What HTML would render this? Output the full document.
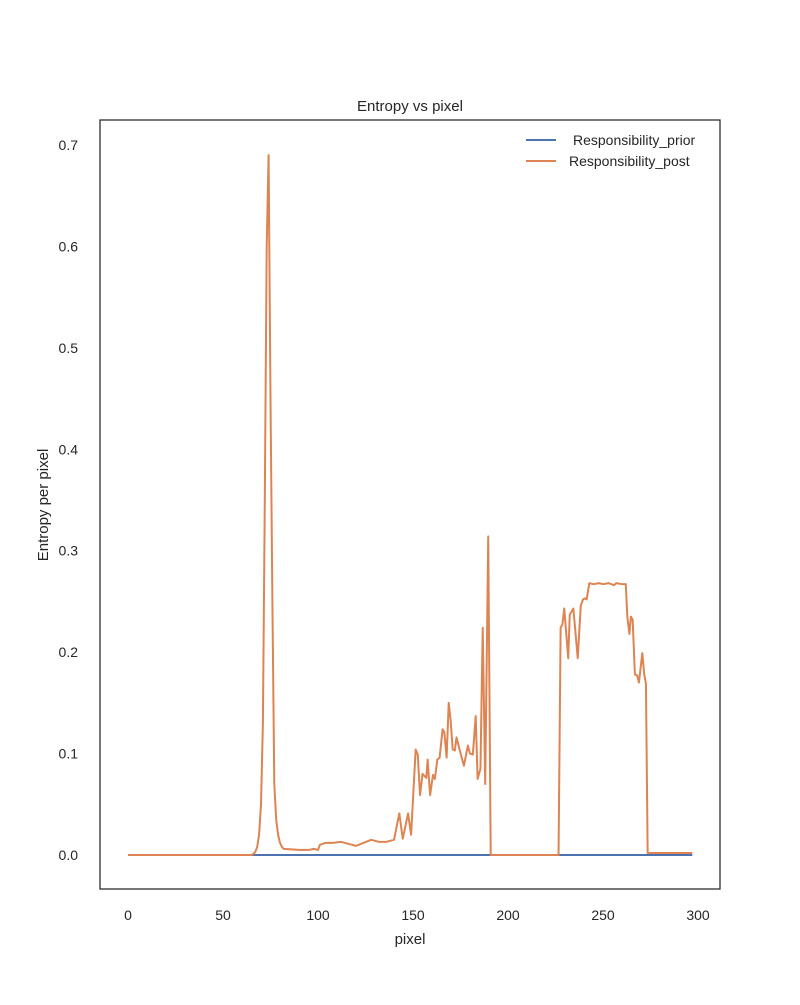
<!DOCTYPE html>
<html><head><meta charset="utf-8"><style>
body{margin:0;background:#fff;}
svg text{font-family:"Liberation Sans",sans-serif;fill:#262626;}
</style></head><body>
<svg id="chart" width="800" height="1000">
<rect x="0" y="0" width="800" height="1000" fill="#fff"/>
<g id="plot"></g>
</svg>
<script>
const priorX=[0,297];
const priorY=[0,0];
const postX=[0,65,66,67,68,69,70,71,72,73,74,75,76,77,78,79,80,81,82,90,95,98,100,101,104,108,112,116,120,124,128,132,136,140,142.8,144.6,147.4,149,151.4,152.5,153.7,155,157,157.7,159,160.5,161.5,162.8,164,165.6,166.5,167.7,168.8,169.8,170.9,172,172.9,174.5,176.8,178.9,180,181.5,183,184,185.5,186.7,188,189.6,190.9,226.6,227.7,228.6,229.6,231.7,232.5,234.4,236.7,238.3,239.5,240.5,241.4,242.8,245,248,250,253,255.8,257,260,262,262.8,263.9,264.7,265.6,266.8,268,268.9,270.7,271.7,272.6,273.5,297];
const postY=[0,0,0.001,0.003,0.008,0.02,0.05,0.13,0.35,0.60,0.69,0.45,0.25,0.07,0.035,0.02,0.012,0.008,0.006,0.005,0.005,0.006,0.005,0.010,0.012,0.012,0.013,0.011,0.009,0.012,0.015,0.013,0.013,0.015,0.041,0.016,0.041,0.02,0.104,0.099,0.059,0.080,0.076,0.094,0.059,0.079,0.075,0.094,0.096,0.124,0.121,0.096,0.150,0.133,0.104,0.103,0.116,0.104,0.088,0.108,0.100,0.099,0.137,0.075,0.085,0.224,0.070,0.314,0,0,0.224,0.227,0.243,0.194,0.237,0.243,0.194,0.246,0.252,0.253,0.252,0.268,0.267,0.268,0.267,0.268,0.266,0.268,0.267,0.267,0.235,0.218,0.235,0.232,0.178,0.177,0.170,0.199,0.178,0.169,0.002,0.002];
const xTicks=[0,50,100,150,200,250,300];
const yTicks=[0.0,0.1,0.2,0.3,0.4,0.5,0.6,0.7];
const xs=v=>128+v*1.9;
const ys=v=>855-v*1014.3;
const NS="http://www.w3.org/2000/svg";
const g=document.getElementById('plot');
function mk(t,a){const e=document.createElementNS(NS,t);for(const k in a)e.setAttribute(k,a[k]);g.appendChild(e);return e;}
xTicks.forEach(t=>{const e=mk('text',{x:xs(t),y:920,'font-size':14,'text-anchor':'middle'});e.textContent=t;

});
yTicks.forEach(t=>{const e=mk('text',{x:78,y:ys(t)+5,'font-size':14,'text-anchor':'end'});e.textContent=t.toFixed(1);

});
function line(X,Y,c,name){const p=mk('polyline',{points:X.map((x,i)=>xs(x)+','+ys(Y[i])).join(' '),fill:'none',stroke:c,'stroke-width':2,'stroke-linejoin':'round'});

}
line(priorX,priorY,'#4c72b0','prior-line');
line(postX,postY,'#dd8452','post-line');
const fr=mk('rect',{x:100,y:120,width:620,height:769,fill:'none',stroke:'#262626','stroke-width':1.25});


const ti=mk('text',{x:410,y:111,'font-size':15,'text-anchor':'middle'});ti.textContent='Entropy vs pixel';


const xl=mk('text',{x:410,y:944,'font-size':15,'text-anchor':'middle'});xl.textContent='pixel';


const yl=mk('text',{x:48,y:505,'font-size':15,'text-anchor':'middle',transform:'rotate(-90 48 505)'});yl.textContent='Entropy per pixel';


[['#4c72b0','Responsibility_prior',140,573],['#dd8452','Responsibility_post',161,569]].forEach(([c,l,y,tx])=>{
const ln=mk('line',{x1:526,x2:556,y1:y,y2:y,stroke:c,'stroke-width':2});


const t=mk('text',{x:tx,y:y+5,'font-size':14});t.textContent=l;


});
</script>
</body></html>
